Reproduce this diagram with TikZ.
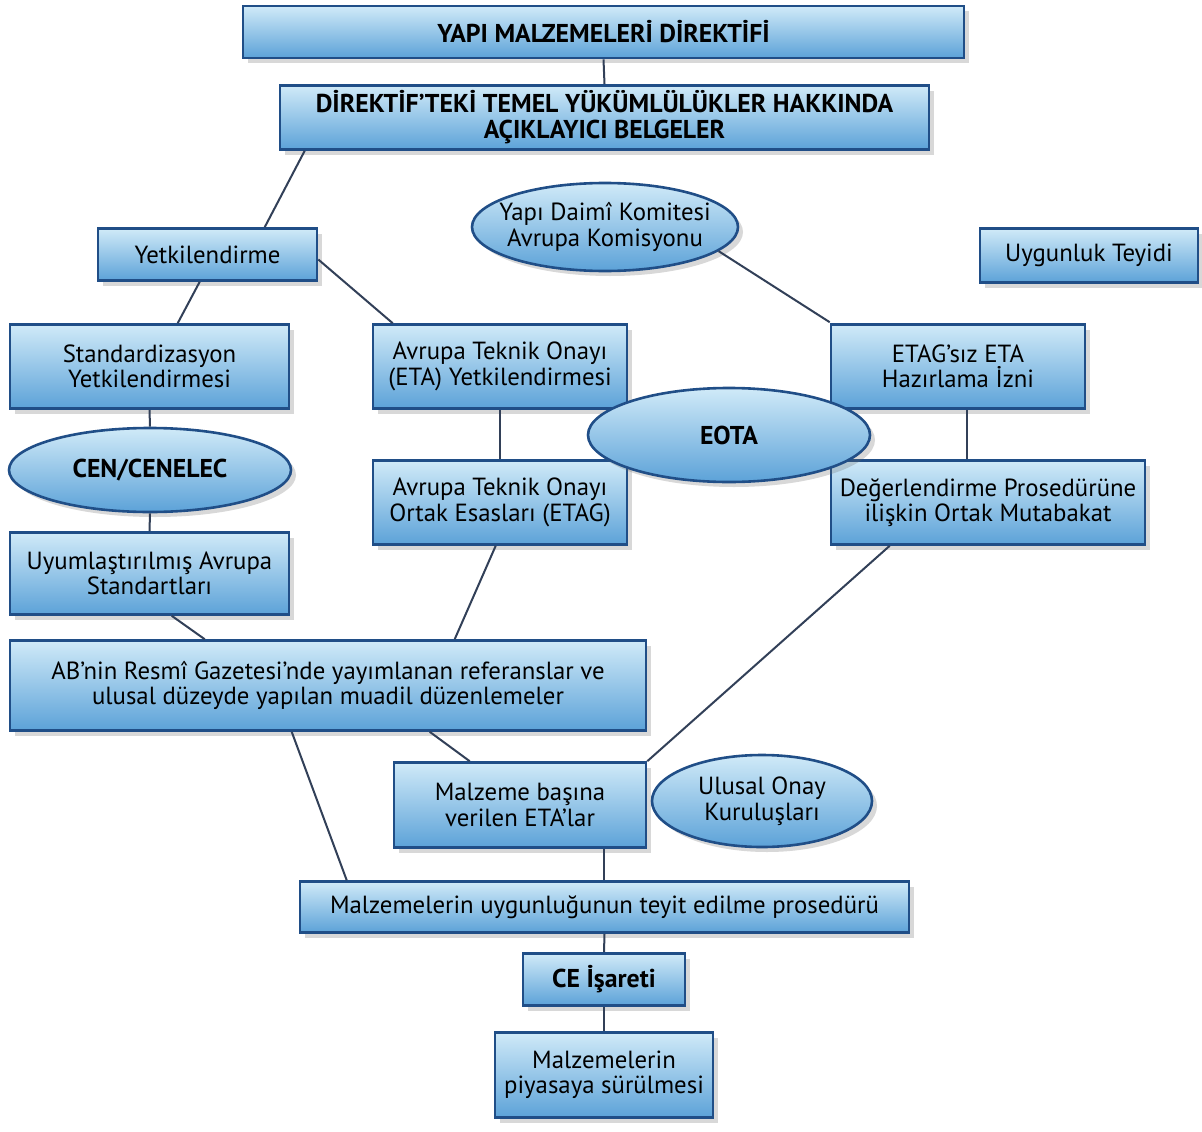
\documentclass[tikz,border=0pt]{standalone}
\usepackage{fontspec}
\setmainfont{PT Sans}
\usetikzlibrary{shadows,shapes.geometric}
\definecolor{bborder}{RGB}{32,78,135}
\definecolor{btop}{RGB}{208,234,248}
\definecolor{bbot}{RGB}{92,162,216}
\definecolor{lcol}{RGB}{50,64,88}
\newcommand{\zw}[1]{\makebox[0pt]{#1}}
\tikzset{
  box/.style={draw=bborder, line width=2.6pt, top color=btop, bottom color=bbot,
    inner sep=0pt, align=center, text=black,
    font=\fontsize{24.8}{25.5}\selectfont,
    drop shadow={shadow xshift=5pt, shadow yshift=-5pt, opacity=0.25, fill=black!60}},
  ell/.style={ellipse, draw=bborder, line width=2.6pt, top color=btop, bottom color=bbot,
    inner sep=0pt, align=center, text=black,
    font=\fontsize{24.8}{25.5}\selectfont,
    drop shadow={shadow xshift=5pt, shadow yshift=-5pt, opacity=0.25, fill=black!60}},
  conn/.style={draw=lcol, line width=2pt},
  bld/.style={font=\fontsize{25.8}{26}\selectfont\bfseries}
}
\begin{document}
\begin{tikzpicture}[x=1pt,y=-1pt]
\useasboundingbox (0,0) rectangle (1202,1132);
\fill[white] (0,0) rectangle (1202,1132);
% boxes
\node[box,bld,minimum width=721pt,minimum height=52pt] (title) at (603.5,32) {YAPI MALZEMELERİ DİREKTİFİ};
\node[box,bld,minimum width=649pt,minimum height=64pt] (dir) at (604.5,117.5) {DİREKTİF’TEKİ TEMEL YÜKÜMLÜLÜKLER HAKKINDA\\AÇIKLAYICI BELGELER};
\node[box,minimum width=219pt,minimum height=52pt] (yet) at (207.5,254.5) {Yetkilendirme};
\node[box,minimum width=218pt,minimum height=54pt] (uyt) at (1089,255.5) {Uygunluk Teyidi};
\node[box,minimum width=279pt,minimum height=84pt] (std) at (149.5,366.5) {Standardizasyon\\Yetkilendirmesi};
\node[box,minimum width=254pt,minimum height=84pt] (eta) at (500,366.5) {Avrupa Teknik Onayı\\(ETA) Yetkilendirmesi};
\node[box,minimum width=254pt,minimum height=84pt] (etagsiz) at (958,366.5) {ETAG’sız ETA\\Hazırlama İzni};
\node[box,minimum width=254pt,minimum height=84pt] (etag) at (500,502.5) {Avrupa Teknik Onayı\\Ortak Esasları (ETAG)};
\node[box,minimum width=314pt,minimum height=84pt] (deger) at (988,502.5) {Değerlendirme Prosedürüne\\ilişkin Ortak Mutabakat};
\node[box,minimum width=279pt,minimum height=82pt] (uyum) at (149.5,573.5) {Uyumlaştırılmış Avrupa\\Standartları};
\node[box,minimum width=636pt,minimum height=90pt] (ab) at (328,685.5) {AB’nin Resmî Gazetesi’nde yayımlanan referanslar ve\\ulusal düzeyde yapılan muadil düzenlemeler};
\node[box,minimum width=252pt,minimum height=85pt] (malz) at (520,805) {Malzeme başına\\verilen ETA’lar};
\node[box,minimum width=609pt,minimum height=51pt] (uyg) at (604.5,907) {Malzemelerin uygunluğunun teyit edilme prosedürü};
\node[box,bld,minimum width=162pt,minimum height=52pt] (ce) at (604,979.5) {CE İşareti};
\node[box,minimum width=218pt,minimum height=85pt] (pias) at (604,1075) {Malzemelerin\\piyasaya sürülmesi};
% connectors
\draw[conn] (title.south) -- (dir.north);
\draw[conn] ([xshift=26pt]dir.south west) -- ([xshift=168pt]yet.north west);
\draw[conn] ([xshift=103pt]yet.south west) -- ([xshift=169pt]std.north west);
\draw[conn] ([yshift=-5pt]yet.east) -- ([xshift=21pt]eta.north west);
\draw[conn] (eta.south) -- (etag.north);
\draw[conn] ([xshift=9pt]etagsiz.south) -- ([xshift=9pt]etagsiz.south |- deger.north);
\draw[conn] ([xshift=163pt]uyum.south west) -- ([xshift=196pt]ab.north west);
\draw[conn] ([xshift=124pt]etag.south west) -- ([xshift=446pt]ab.north west);
\draw[conn] ([xshift=60pt]deger.south west) -- (malz.north east);
\draw[conn] ([xshift=421pt]ab.south west) -- ([xshift=77pt]malz.north west);
\draw[conn] ([xshift=283pt]ab.south west) -- ([xshift=48pt]uyg.north west);
\draw[conn] ([xshift=84pt]malz.south) -- ([xshift=84pt]malz.south |- uyg.north);
\draw[conn] (uyg.south) -- (ce.north);
\draw[conn] (ce.south) -- (pias.north);
% ellipses
\node[ell,minimum width=266pt,minimum height=88pt] (daimi) at (605,227) {\zw{Yapı Daimî Komitesi}\\\zw{Avrupa Komisyonu}};
\node[ell,bld,minimum width=282pt,minimum height=84pt] (cen) at (150,470) {\zw{CEN/CENELEC}};
\node[ell,minimum width=220pt,minimum height=92pt] (ulusal) at (762,801) {\zw{Ulusal Onay}\\\zw{Kuruluşları}};
\draw[conn] (daimi.-12) -- ([yshift=1pt]etagsiz.north west);
\draw[conn] (std.south) -- (cen.north);
\draw[conn] (cen.south) -- (uyum.north);
\node[ell,bld,minimum width=282pt,minimum height=94pt] (eota) at (729,435) {\zw{EOTA}};
\end{tikzpicture}
\end{document}
